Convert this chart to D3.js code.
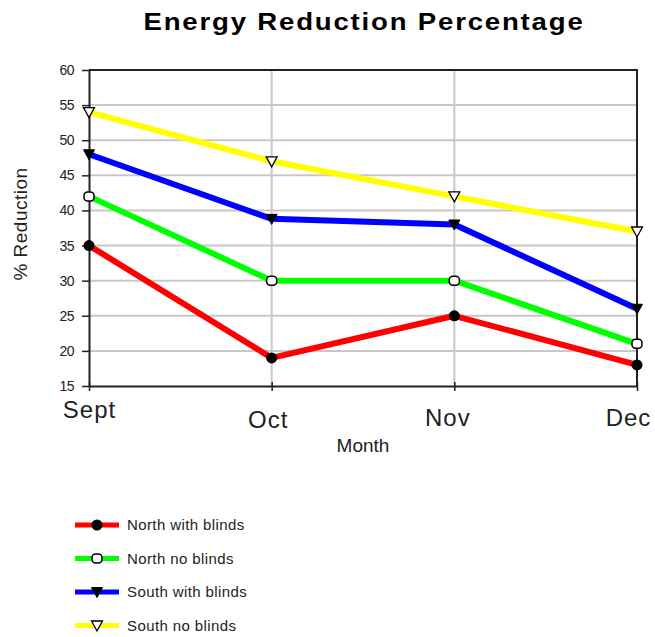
<!DOCTYPE html>
<html>
<head>
<meta charset="utf-8">
<script src="https://cdn.jsdelivr.net/npm/d3@7/dist/d3.min.js"></script>
<style>
  html, body { margin: 0; padding: 0; background: #fff; }
  svg { display: block; font-family: Arial, "Liberation Sans", sans-serif; }
</style>
</head>
<body>
<svg id="chart" width="655" height="637"></svg>
<script>
// Months along the x axis
const months = ["Sept", "Oct", "Nov", "Dec"];

// Percentage reduction per series
const northWithBlinds = [35, 19, 25, 18];
const northNoBlinds   = [42, 30, 30, 21];
const southWithBlinds = [48, 38.8, 38, 26];
const southNoBlinds   = [54, 47, 42, 37];

const seriesNames = ["North with blinds", "North no blinds", "South with blinds", "South no blinds"];
const yTicks = [15, 20, 25, 30, 35, 40, 45, 50, 55, 60];

const seriesData = [northWithBlinds, northNoBlinds, southWithBlinds, southNoBlinds];
const colors = ["#ff0000", "#00ff00", "#0000ff", "#ffff00"];
const markerKinds = ["dot", "ring", "tri", "triOpen"];

const svg = d3.select("#chart");
const plotLeft = 89, plotRight = 637, plotTop = 70, plotBottom = 386;

const x = d3.scalePoint().domain(months).range([plotLeft, plotRight]);
const y = d3.scaleLinear().domain([15, 60]).range([plotBottom, plotTop]);

// Title, drawn slightly wide
svg.append("text")
  .attr("transform", "translate(364,30) scale(1.2,1)")
  .attr("text-anchor", "middle")
  .attr("font-size", 23).attr("font-weight", "bold")
  .attr("letter-spacing", 1.5)
  .text("Energy Reduction Percentage");

// Grid lines
const grid = svg.append("g").attr("stroke", "#c8c8c8").attr("stroke-width", 2);
grid.selectAll("line.h").data(yTicks.filter(t => t > 15 && t < 60)).join("line")
  .attr("class", "h")
  .attr("x1", plotLeft).attr("x2", plotRight)
  .attr("y1", d => y(d)).attr("y2", d => y(d));
grid.selectAll("line.v").data(months.slice(1, -1)).join("line")
  .attr("class", "v")
  .attr("y1", plotTop).attr("y2", plotBottom)
  .attr("x1", d => x(d)).attr("x2", d => x(d));

// Plot frame (top and right)
svg.append("path")
  .attr("d", `M${plotLeft},${plotTop}H${plotRight}V${plotBottom}`)
  .attr("fill", "none").attr("stroke", "#222").attr("stroke-width", 2);

// Y axis
const yAxis = svg.append("g").attr("transform", `translate(${plotLeft},0)`)
  .call(d3.axisLeft(y).tickValues(yTicks).tickSize(7).tickSizeOuter(0).tickPadding(8));
yAxis.select(".domain").attr("stroke", "#222").attr("stroke-width", 2);
yAxis.selectAll(".tick line").attr("stroke", "#222").attr("stroke-width", 1.5).attr("x2", -7).attr("x1", 1);
yAxis.selectAll(".tick text").attr("font-size", 14).attr("fill", "#222")
  .attr("font-family", "Arial, sans-serif").attr("letter-spacing", -0.5);

// X axis
const labelShift = [0, -4, -7, -9];
const labelDrop = [0, 10, 8, 8];
const xAxis = svg.append("g").attr("transform", `translate(0,${plotBottom})`)
  .call(d3.axisBottom(x).tickSize(5).tickSizeOuter(0).tickPadding(10));
xAxis.select(".domain").attr("stroke", "#222").attr("stroke-width", 2);
xAxis.selectAll(".tick line").attr("stroke", "#222").attr("stroke-width", 1.5).attr("y1", -4);
xAxis.selectAll(".tick text")
  .attr("font-size", 24).attr("fill", "#222").attr("font-family", "Arial, sans-serif")
  .attr("letter-spacing", 1)
  .attr("dx", (d, i) => labelShift[i])
  .attr("dy", (d, i) => (0.71 + labelDrop[i] / 24) + "em");

// Axis titles
svg.append("text")
  .attr("x", 363).attr("y", 452)
  .attr("text-anchor", "middle").attr("font-size", 19).attr("fill", "#222")
  .text("Month");
svg.append("text")
  .attr("transform", "translate(27,224) rotate(-90)")
  .attr("text-anchor", "middle").attr("font-size", 19).attr("fill", "#222")
  .attr("letter-spacing", 0.5)
  .text("% Reduction");

// Marker drawing
function drawMarker(g, kind, cx, cy) {
  if (kind === "dot") {
    g.append("circle").attr("cx", cx).attr("cy", cy).attr("r", 5.5).attr("fill", "#000");
  } else if (kind === "ring") {
    g.append("rect").attr("x", cx - 5).attr("y", cy - 4.5).attr("width", 10).attr("height", 9)
      .attr("rx", 3.5).attr("fill", "#fff").attr("stroke", "#000").attr("stroke-width", 1.5);
  } else {
    const open = kind === "triOpen";
    g.append("path")
      .attr("d", `M${cx - 5.5},${cy - 4.5}L${cx + 5.5},${cy - 4.5}L${cx},${cy + 5.5}Z`)
      .attr("fill", open ? "#fff" : "#000").attr("stroke", "#000").attr("stroke-width", open ? 1.3 : 1);
  }
}

// Series lines and markers
const line = d3.line().x((d, i) => x(months[i])).y(d => y(d));
seriesData.forEach((vals, s) => {
  svg.append("path").datum(vals)
    .attr("d", line)
    .attr("fill", "none").attr("stroke", colors[s]).attr("stroke-width", 6)
    .attr("stroke-linejoin", "round");
});
seriesData.forEach((vals, s) => {
  const g = svg.append("g");
  vals.forEach((v, i) => drawMarker(g, markerKinds[s], x(months[i]), y(v)));
});

// Legend
const legend = svg.append("g");
seriesNames.forEach((name, s) => {
  const ly = 525 + s * 33.5;
  legend.append("line").attr("x1", 75).attr("x2", 119).attr("y1", ly).attr("y2", ly)
    .attr("stroke", colors[s]).attr("stroke-width", 5);
  drawMarker(legend, markerKinds[s], 97, ly);
  legend.append("text").attr("x", 127).attr("y", ly + 5)
    .attr("font-size", 15).attr("fill", "#222").attr("letter-spacing", 0.4)
    .text(name);
});
</script>
</body>
</html>
